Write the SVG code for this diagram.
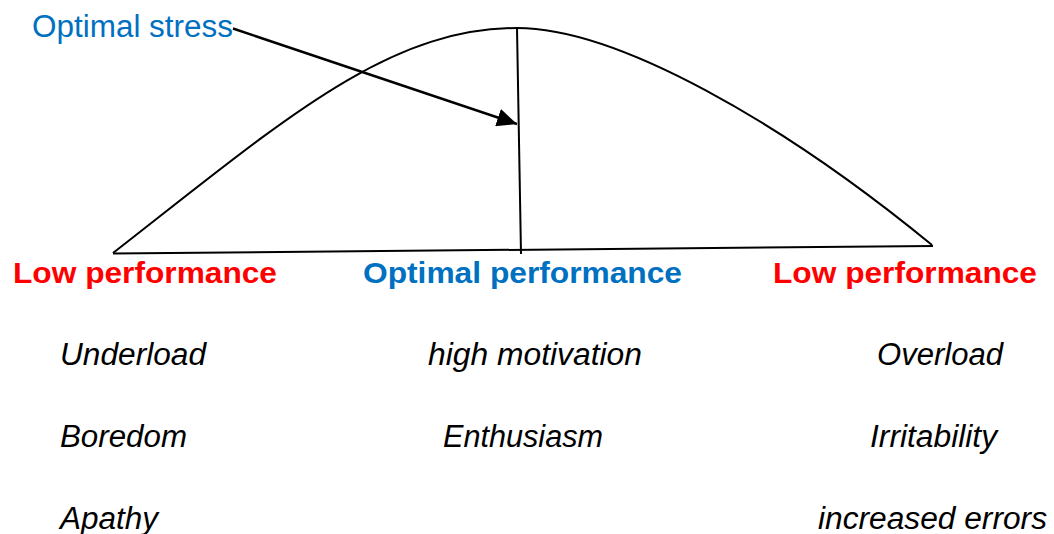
<svg xmlns="http://www.w3.org/2000/svg" width="1054" height="534" viewBox="0 0 1054 534">
<style>
.t{font-family:"Liberation Sans",Arial,sans-serif;font-size:31px}
.b{font-weight:bold;font-size:30px}
.i{font-style:italic;fill:#000}
.red{fill:#FF0000}
.blue{fill:#0070C0}
.ln{fill:none;stroke:#000;stroke-width:2}
</style>
<defs>
<marker id="ah" markerUnits="userSpaceOnUse" markerWidth="22" markerHeight="18" refX="20" refY="9" orient="auto">
<path d="M0,0 L20,9 L0,18 Z" fill="#000"/>
</marker>
</defs>
<rect width="1054" height="534" fill="#fff"/>
<g id="curve">
<path class="ln" d="M113,253 C283,120.4 387,28 517,28 C617,28 782,122 932,245"/>
<path class="ln" d="M113,253.5 L933,246" stroke-width="2.5"/>
<path class="ln" d="M517,28 L521,254"/>
</g>
<g id="labels">
<text id="optimal-stress" class="t blue" x="32" y="37" textLength="201" lengthAdjust="spacingAndGlyphs">Optimal stress</text>
<text id="low-left" class="t b red" x="13" y="283" textLength="264" lengthAdjust="spacingAndGlyphs">Low performance</text>
<text id="optimal-perf" class="t b blue" x="363" y="283" textLength="319" lengthAdjust="spacingAndGlyphs">Optimal performance</text>
<text id="low-right" class="t b red" x="773" y="283" textLength="264" lengthAdjust="spacingAndGlyphs">Low performance</text>
<text class="t i" x="60" y="365" textLength="146" lengthAdjust="spacingAndGlyphs">Underload</text>
<text class="t i" x="60" y="447" textLength="127" lengthAdjust="spacingAndGlyphs">Boredom</text>
<text class="t i" x="60" y="529" textLength="98" lengthAdjust="spacingAndGlyphs">Apathy</text>
<text class="t i" x="428" y="365" textLength="214" lengthAdjust="spacingAndGlyphs">high motivation</text>
<text class="t i" x="443" y="447" textLength="160" lengthAdjust="spacingAndGlyphs">Enthusiasm</text>
<text class="t i" x="877" y="365" textLength="126" lengthAdjust="spacingAndGlyphs">Overload</text>
<text class="t i" x="870" y="447" textLength="127" lengthAdjust="spacingAndGlyphs">Irritability</text>
<text class="t i" x="818" y="529" textLength="229" lengthAdjust="spacingAndGlyphs">increased errors</text>
</g>
<g id="connectors">
<path d="M233,28.5 L517,124" fill="none" stroke="#000" stroke-width="2.5" marker-end="url(#ah)"/>
</g>
</svg>
